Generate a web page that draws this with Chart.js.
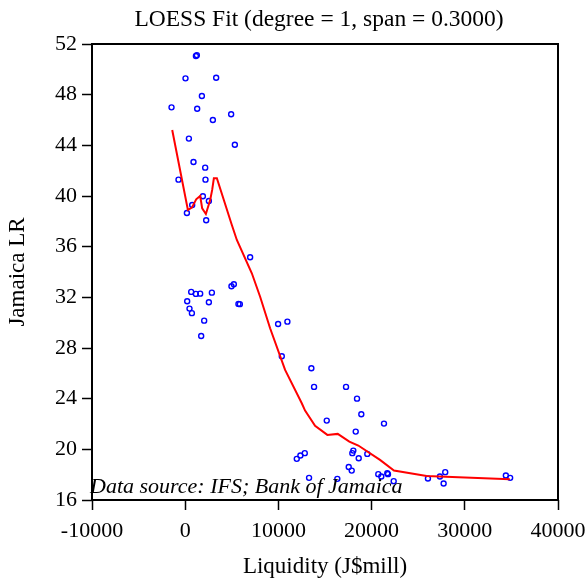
<!DOCTYPE html>
<html>
<head>
<meta charset="utf-8">
<script src="https://cdn.jsdelivr.net/npm/chart.js@4"></script>
<style>
  body { margin: 0; background: #fff; }
</style>
</head>
<body>
<canvas id="myChart" width="587" height="585"></canvas>
<script>
const liquidity = [
  1150, 1250, 32, 3323, 1790, -1468, 1286, 2969, 4930, 397, 5327, 890, 2144, -718, 2176, 1897, 2540, 750, 182, 2251,
  6967, 643, 1147, 1608, 2862, 214, 2540, 461, 718, 2036, 1715, 4962, 5220, 5713, 5863,
  9968, 10965, 10364, 13537, 13826, 17256, 18435, 18896, 15188, 21329, 18296, 11972, 12358, 12830, 18039, 17931,
  18617, 19539, 17546, 17867, 13290, 16324, 20718, 21040, 21683, 21758, 22369, 26045, 27331, 27899, 27728, 34405, 34866
];
const jamaicaLR = [
  51.05, 51.12, 49.29, 49.34, 47.90, 47.00, 46.89, 46.00, 46.45, 44.53, 44.05, 42.69, 42.24, 41.29, 41.29, 39.98, 39.61, 39.29, 38.66, 38.08,
  35.16, 32.43, 32.27, 32.29, 32.37, 31.69, 31.61, 31.11, 30.75, 30.16, 28.95, 32.88, 33.03, 31.48, 31.46,
  29.90, 30.08, 27.35, 26.40, 24.93, 24.93, 24.00, 22.77, 22.27, 22.03, 21.40, 19.25, 19.51, 19.70, 19.90, 19.70,
  19.30, 19.64, 18.61, 18.32, 17.75, 17.67, 18.04, 17.85, 18.11, 18.04, 17.49, 17.70, 17.85, 18.20, 17.30, 17.93, 17.75
];

// loess curve
const fitX = [-1393, 289, 718, 1179, 1608, 1822, 2219, 2680, 2894, 3076, 3398, 5005, 5541, 7149, 8040, 9110,
  10718, 12508, 12862, 13934, 15252, 16367, 17610, 18574, 20900, 22400, 25905, 34834];
const fitY = [45.21, 38.90, 39.08, 39.74, 40.00, 39.03, 38.58, 39.69, 40.48, 41.40, 41.40, 37.71, 36.53, 33.90, 32.05, 29.56,
  26.27, 23.64, 23.06, 21.85, 21.14, 21.22, 20.61, 20.30, 19.17, 18.33, 17.90, 17.64];

const SERIF = "'Liberation Serif', 'Times New Roman', serif";
const chartTitle = 'LOESS Fit (degree = 1, span = 0.3000)';
const sourceNote = 'Data source: IFS; Bank of Jamaica';

const framePlugin = {
  id: 'frame',
  afterDraw(chart) {
    const { ctx, chartArea: a } = chart;
    ctx.save();
    ctx.strokeStyle = '#000';
    ctx.lineWidth = 2;
    ctx.strokeRect(a.left, a.top, a.right - a.left, a.bottom - a.top);
    ctx.fillStyle = '#000';
    // title, centred on the plot box
    ctx.font = '23.5px ' + SERIF;
    ctx.textAlign = 'center';
    ctx.textBaseline = 'alphabetic';
    ctx.fillText(chartTitle, (a.left + a.right) / 2 - 6, 26);
    ctx.font = 'italic 22px ' + SERIF;
    ctx.textAlign = 'left';
    ctx.fillText(sourceNote, a.left - 2, a.bottom - 7);
    ctx.restore();
  }
};

const data = {
  datasets: [
    {
      type: 'line',
      label: 'LOESS',
      data: fitX.map((x, i) => ({ x: x, y: fitY[i] })),
      borderColor: 'rgb(255, 0, 0)',
      borderWidth: 2,
      pointRadius: 0,
      fill: false,
      tension: 0,
      order: 0
    },
    {
      type: 'scatter',
      label: 'Jamaica LR',
      data: liquidity.map((x, i) => ({ x: x, y: jamaicaLR[i] })),
      borderColor: 'rgb(0, 0, 255)',
      backgroundColor: 'rgba(0,0,0,0)',
      borderWidth: 1.4,
      pointRadius: 2.5,
      order: 1
    }
  ]
};

const config = {
  type: 'scatter',
  data: data,
  plugins: [framePlugin],
  options: {
    responsive: false,
    animation: false,
    layout: { padding: { top: 44, right: 29 } },
    plugins: {
      legend: { display: false },
      tooltip: { enabled: false }
    },
    scales: {
      x: {
        type: 'linear',
        min: -10000,
        max: 40000,
        afterFit(s) { s.height = 85; s.paddingRight = 0; s.paddingLeft = 0; },
        ticks: {
          stepSize: 10000,
          autoSkip: false,
          maxRotation: 0,
          color: '#000',
          padding: 8,
          font: { family: SERIF, size: 22 },
          callback: v => String(v)
        },
        grid: { drawOnChartArea: false, tickLength: 10, tickColor: '#000', tickWidth: 1.5 },
        border: { display: false },
        title: {
          display: true,
          text: 'Liquidity (J$mill)',
          color: '#000',
          font: { family: SERIF, size: 23 },
          padding: { top: 4, bottom: 4 }
        }
      },
      y: {
        min: 16,
        max: 52,
        afterFit(s) { s.width = 92; s.paddingTop = 0; s.paddingBottom = 0; },
        ticks: {
          stepSize: 4,
          color: '#000',
          padding: 5,
          font: { family: SERIF, size: 22 },
          callback: v => String(v)
        },
        grid: { drawOnChartArea: false, tickLength: 10, tickColor: '#000', tickWidth: 1.5 },
        border: { display: false },
        title: {
          display: true,
          text: 'Jamaica LR',
          color: '#000',
          font: { family: SERIF, size: 23 },
          padding: { top: 4, bottom: 4 }
        }
      }
    }
  }
};

const myChart = new Chart(document.getElementById('myChart'), config);
</script>
</body>
</html>
